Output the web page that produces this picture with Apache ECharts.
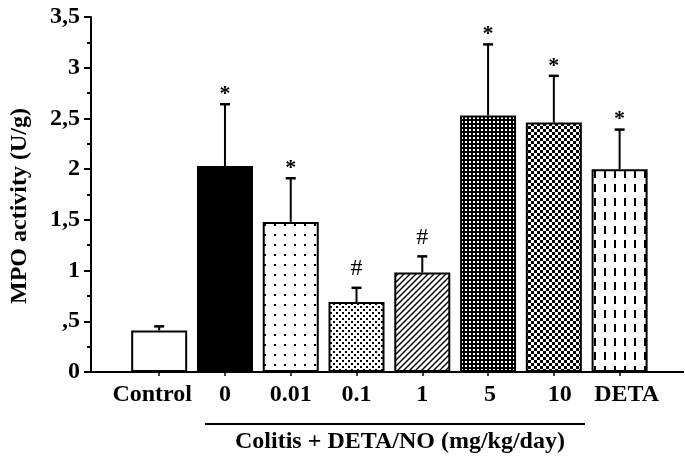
<!DOCTYPE html>
<html>
<head>
<meta charset="utf-8">
<script src="https://cdn.jsdelivr.net/npm/echarts@6/dist/echarts.min.js"></script>
<style>html,body{margin:0;padding:0;background:#fff;}#c{width:685px;height:466px;}</style>
</head>
<body>
<div id="c"></div>
<script>
var categories = ['Control', '0', '0.01', '0.1', '1', '5', '10', 'DETA'];
var meanValues = [0.41, 2.03, 1.48, 0.69, 0.98, 2.53, 2.46, 2.00];
var semValues  = [0.04, 0.61, 0.43, 0.14, 0.16, 0.70, 0.46, 0.39];
var sigMarks   = ['', '*', '*', '#', '#', '*', '*', '*'];
var yTickLabels = ['0', ',5', '1', '1,5', '2', '2,5', '3', '3,5'];
var yTitle = 'MPO activity (U/g)';
var xTitle = 'Colitis + DETA/NO (mg/kg/day)';

var FONT = '"Liberation Serif", "Times New Roman", serif';

function mk(w, h, draw) {
  var c = document.createElement('canvas');
  c.width = w; c.height = h;
  var g = c.getContext('2d');
  g.fillStyle = '#fff'; g.fillRect(0, 0, w, h);
  g.fillStyle = '#000'; g.strokeStyle = '#000';
  draw(g);
  return { image: c, repeat: 'repeat' };
}
var patterns = [
  '#ffffff',
  '#000000',
  mk(10, 10, function (g) { g.fillRect(4, 4, 2, 2); }),
  mk(6, 6, function (g) { g.fillRect(0, 0, 2, 2); g.fillRect(3, 3, 2, 2); }),
  mk(6, 6, function (g) {
    g.lineWidth = 1.4;
    g.beginPath(); g.moveTo(-1, 7); g.lineTo(7, -1); g.stroke();
    g.beginPath(); g.moveTo(-1, 1); g.lineTo(1, -1); g.stroke();
    g.beginPath(); g.moveTo(5, 7); g.lineTo(7, 5); g.stroke();
  }),
  mk(4, 4, function (g) { g.fillRect(0, 0, 4, 4); g.fillStyle = '#fff'; g.fillRect(1, 1, 2, 2); }),
  mk(6, 6, function (g) { g.fillRect(0, 0, 3, 3); g.fillRect(3, 3, 3, 3); }),
  mk(10, 14, function (g) { g.fillRect(4, 2, 2, 8); })
];

var labelPads = [[0, 14, 0, 0], [0, 0, 0, 0], [0, 0, 0, 0], [0, 0, 0, 0], [0, 0, 0, 0], [0, 0, 0, 4], [0, 0, 0, 12], [0, 0, 0, 14]];

var chart = echarts.init(document.getElementById('c'), null, { renderer: 'canvas' });

var option = {
  backgroundColor: '#fff',
  animation: false,
  grid: { left: 126.3, right: 32.5, top: 17, bottom: 94 },
  xAxis: {
    type: 'category',
    data: categories.map(function (c, i) {
      return { value: c, textStyle: { padding: labelPads[i] } };
    }),
    axisLine: { show: true, lineStyle: { color: '#000', width: 2 } },
    axisTick: { show: true, alignWithLabel: true, length: 4, lineStyle: { color: '#000', width: 1.5 } },
    axisLabel: { color: '#000', fontFamily: FONT, fontWeight: 'bold', fontSize: 24, margin: 11, interval: 0 }
  },
  yAxis: {
    type: 'value',
    min: 0, max: 3.5, interval: 0.5,
    offset: 35.3,
    axisLine: { show: true, lineStyle: { color: '#000', width: 2 } },
    axisTick: { show: true, length: 7, lineStyle: { color: '#000', width: 2 } },
    minorTick: { show: true, splitNumber: 2, length: 4, lineStyle: { color: '#000', width: 2 } },
    splitLine: { show: false },
    axisLabel: {
      color: '#000', fontFamily: FONT, fontWeight: 'bold', fontSize: 24, margin: 11,
      formatter: function (v, i) { return yTickLabels[i]; }
    }
  },
  series: [
    {
      type: 'bar',
      barWidth: 56,
      data: meanValues.map(function (v, i) {
        return { value: v, itemStyle: { color: patterns[i], borderColor: '#000', borderWidth: 2 } };
      })
    },
    {
      type: 'custom',
      z: 5,
      data: meanValues.map(function (v, i) { return [i, v, v + semValues[i]]; }),
      renderItem: function (params, api) {
        var i = api.value(0);
        var p0 = api.coord([i, api.value(1)]);
        var p1 = api.coord([i, api.value(2)]);
        var m = sigMarks[i];
        var children = [
          { type: 'line', shape: { x1: p0[0], y1: p0[1], x2: p1[0], y2: p1[1] }, style: { stroke: '#000', lineWidth: 2 } },
          { type: 'line', shape: { x1: p1[0] - 5, y1: p1[1], x2: p1[0] + 5, y2: p1[1] }, style: { stroke: '#000', lineWidth: 2.5 } }
        ];
        if (m) {
          children.push({
            type: 'text',
            style: {
              text: m, x: p1[0], y: p1[1] - (m === '*' ? 10 : 19),
              align: 'center', verticalAlign: 'middle',
              fill: '#000', font: (m === '*' ? 'bold 22px ' : '24px ') + FONT
            }
          });
        }
        return { type: 'group', children: children };
      }
    }
  ],
  graphic: [
    { type: 'line', shape: { x1: 90, y1: 372, x2: 684, y2: 372 }, style: { stroke: '#000', lineWidth: 2 } },
    { type: 'line', shape: { x1: 205, y1: 424, x2: 585, y2: 424 }, style: { stroke: '#000', lineWidth: 2 } },
    { type: 'text', x: 400, y: 442, style: { text: xTitle, align: 'center', verticalAlign: 'middle', fill: '#000', font: 'bold 24px ' + FONT } },
    { type: 'text', x: 20, y: 206, rotation: Math.PI / 2, style: { text: yTitle, align: 'center', verticalAlign: 'middle', fill: '#000', font: 'bold 24px ' + FONT } }
  ]
};
chart.setOption(option);
</script>
</body>
</html>
